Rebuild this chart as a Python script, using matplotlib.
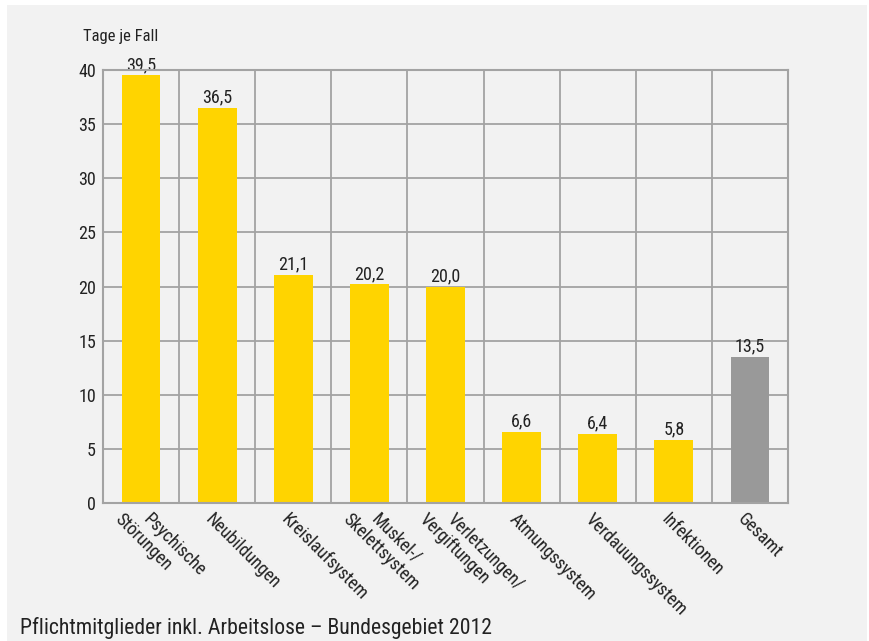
import matplotlib
matplotlib.use("Agg")
import matplotlib.pyplot as plt
from matplotlib.patches import Rectangle
import numpy as np

plt.rcParams['font.family'] = ['Liberation Sans Narrow', 'Roboto Condensed', 'DejaVu Sans']

categories = ["Psychische\nStörungen", "Neubildungen", "Kreislaufsystem",
              "Muskel-/\nSkelettsystem", "Verletzungen/\nVergiftungen",
              "Atmungssystem", "Verdauungssystem", "Infektionen", "Gesamt"]
values = [39.5, 36.5, 21.1, 20.2, 20.0, 6.6, 6.4, 5.8, 13.5]
value_labels = ["39,5", "36,5", "21,1", "20,2", "20,0", "6,6", "6,4", "5,8", "13,5"]
y_ticks = [0, 5, 10, 15, 20, 25, 30, 35, 40]
y_label = "Tage je Fall"
footer = "Pflichtmitglieder inkl. Arbeitslose – Bundesgebiet 2012"

YELLOW = "#FFD400"
GREY_BAR = "#999999"
PANEL = "#F2F2F2"
GRID = "#A3A3A3"
TEXT = "#222222"

W, H = 869, 641
fig = plt.figure(figsize=(W / 100, H / 100), dpi=100, facecolor="white")
fig.patches.append(Rectangle((7 / W, 0), (W - 9) / W, (H - 5) / H,
                             transform=fig.transFigure, facecolor=PANEL,
                             edgecolor="none", zorder=-10))

ax = fig.add_axes([103 / W, 1 - 503 / H, (788 - 103) / W, (503 - 70) / H])
ax.set_facecolor(PANEL)

n = len(categories)
x = np.arange(n)
colors = [YELLOW] * (n - 1) + [GREY_BAR]
ax.bar(x, values, width=0.51, color=colors, zorder=3)

ax.set_xlim(-0.5, n - 0.5)
ax.set_ylim(0, 40)
ax.set_yticks(y_ticks)
ax.set_yticklabels([str(t) for t in y_ticks], fontsize=13, color=TEXT)
ax.tick_params(axis="y", length=0, pad=5)
ax.set_xticks([])

# horizontal and vertical grid
for t in y_ticks[1:]:
    ax.axhline(t, color=GRID, lw=1.3, zorder=1)
for b in np.arange(0.5, n - 0.5, 1.0):
    ax.axvline(b, color=GRID, lw=1.3, zorder=1)
for side in ["left", "right", "top", "bottom"]:
    ax.spines[side].set_color(GRID)
    ax.spines[side].set_linewidth(1.5)
    ax.spines[side].set_zorder(4)

for xi, v, lab in zip(x, values, value_labels):
    ax.annotate(lab, (xi, v), xytext=(0, 1), textcoords="offset points",
                ha="center", va="bottom", fontsize=13, color=TEXT)

# rotated category labels, two-line labels staggered along the diagonal
for xi, lab in zip(x, categories):
    lines = lab.split("\n")
    if len(lines) == 1:
        offs = [-3]
    else:
        offs = [11, -17]
    for line, dx in zip(lines, offs):
        ax.annotate(line, (xi, 0), xycoords="data",
                    xytext=(dx * 0.72, -5), textcoords="offset points",
                    rotation=-45, rotation_mode="anchor",
                    ha="left", va="top", fontsize=13, color=TEXT,
                    annotation_clip=False)

fig.text(83 / W, 1 - 36 / H, y_label, ha="left", va="center",
         fontsize=12, color=TEXT)
fig.text(20 / W, 1 - 628 / H, footer, ha="left", va="center",
         fontsize=15.7, color=TEXT)

fig.savefig("out.png", dpi=100, facecolor="white")
